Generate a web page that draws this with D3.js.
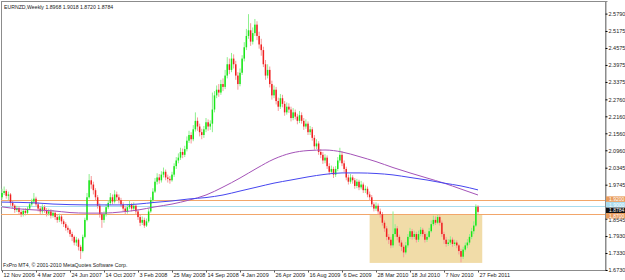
<!DOCTYPE html>
<html>
<head>
<meta charset="utf-8">
<script src="https://cdn.jsdelivr.net/npm/d3@7"></script>
<style>
  body { margin: 0; background: #fff; }
  text { font-family: "Liberation Sans", Arial, sans-serif; fill: #222; }
</style>
</head>
<body>
<div id="chart"></div>
<script>
// weekly closes, 12 Nov 2006 .. 27 Feb 2011 (one per bar)
const closes = [
  1.945,1.952,1.935,1.940,1.910,1.900,1.885,1.892,1.878,1.870,1.882,
  1.875,1.890,1.905,1.915,1.925,1.905,1.890,1.880,1.895,1.885,
  1.872,1.880,1.865,1.875,1.860,1.850,1.862,1.845,1.835,1.822,
  1.815,1.800,1.790,1.770,1.780,1.755,1.740,
  1.790,1.850,1.930,1.990,1.975,1.955,1.930,1.900,1.870,1.850,
  1.870,1.895,1.910,1.930,1.915,1.940,1.930,1.920,
  1.905,1.890,1.880,1.895,1.905,1.890,1.900,1.880,
  1.860,1.840,1.850,1.830,1.845,
  1.880,1.920,1.950,1.985,2.000,1.990,2.010,
  2.020,2.000,1.995,1.990,2.010,2.040,2.060,
  2.070,2.090,2.080,2.100,2.130,2.150,2.135,2.170,2.200,2.180,2.160,2.150,2.170,2.195,2.180,2.190,2.240,2.290,2.310,2.300,2.330,2.320,
  2.360,2.400,2.380,2.420,2.400,2.360,2.330,2.370,2.420,2.460,2.500,2.520,2.480,2.510,2.540,2.500,2.470,
  2.450,2.400,2.360,2.380,2.330,2.290,2.310,2.270,2.250,2.280,2.260,2.230,2.250,2.240,2.210,2.230,2.215,2.200,2.220,
  2.200,2.180,2.190,2.160,2.170,2.140,2.110,2.120,2.090,2.080,2.060,2.070,2.040,2.020,2.030,2.010,2.030,2.060,2.080,2.050,2.030,2.000,1.985,2.000,1.990,1.970,1.985,1.965,
  1.975,1.955,1.960,1.940,1.930,1.905,1.890,1.900,1.880,1.870,1.840,1.820,1.790,1.780,1.760,
  1.800,1.820,1.790,1.770,1.755,1.735,1.760,1.790,1.810,1.790,1.800,1.780,1.800,1.815,1.800,1.780,1.790,1.810,1.835,1.850,1.840,1.860,1.840,
  1.800,1.780,1.765,1.770,1.780,1.765,1.770,1.760,1.740,1.720,1.745,1.760,1.770,1.790,1.810,1.830,1.8968,1.8784
];
const highs = [
  1.960,1.968,1.958,1.950,1.945,1.918,1.905,1.900,1.898,1.885,1.890,
  1.892,1.898,1.912,1.925,1.945,1.932,1.912,1.898,1.905,1.902,
  1.892,1.890,1.888,1.885,1.880,1.868,1.872,1.868,1.852,1.842,
  1.830,1.820,1.808,1.795,1.790,1.785,1.762,
  1.798,1.858,1.945,2.012,2.005,1.985,1.962,1.938,1.908,1.878,
  1.880,1.905,1.920,1.945,1.940,1.955,1.950,1.940,
  1.928,1.912,1.898,1.905,1.918,1.910,1.912,1.905,
  1.888,1.868,1.862,1.858,1.855,
  1.890,1.930,1.962,1.998,2.015,2.012,2.022,
  2.035,2.028,2.010,2.005,2.020,2.050,2.072,
  2.085,2.105,2.102,2.112,2.145,2.165,2.160,2.185,2.230,2.212,2.190,2.172,2.182,2.210,2.205,2.202,2.300,2.305,2.325,2.330,2.345,2.350,
  2.380,2.425,2.420,2.440,2.435,2.412,2.372,2.385,2.432,2.478,2.525,2.577,2.545,2.530,2.560,2.552,2.515,
  2.490,2.462,2.415,2.400,2.392,2.342,2.325,2.320,2.282,2.295,2.292,2.270,2.265,2.262,2.250,2.245,2.240,2.225,2.235,
  2.230,2.210,2.205,2.198,2.182,2.178,2.150,2.135,2.128,2.100,2.090,2.082,2.078,2.050,2.042,2.038,2.040,2.072,2.105,2.092,2.060,2.038,2.010,2.012,2.008,1.998,1.995,1.992,
  1.988,1.982,1.972,1.968,1.950,1.938,1.912,1.912,1.908,1.890,1.878,1.848,1.828,1.800,1.790,
  1.880,1.835,1.828,1.798,1.778,1.762,1.772,1.800,1.822,1.818,1.812,1.808,1.812,1.825,1.822,1.808,1.802,1.822,1.848,1.865,1.862,1.868,1.866,
  1.848,1.808,1.790,1.782,1.792,1.788,1.780,1.778,1.765,1.748,1.755,1.770,1.782,1.800,1.822,1.845,1.905,1.9018
];
const lows = [
  1.922,1.938,1.925,1.920,1.900,1.890,1.875,1.878,1.868,1.860,1.862,
  1.866,1.870,1.885,1.898,1.908,1.898,1.880,1.870,1.872,1.875,
  1.862,1.865,1.855,1.858,1.850,1.840,1.842,1.835,1.825,1.812,
  1.805,1.790,1.775,1.760,1.758,1.742,1.712,
  1.735,1.785,1.845,1.925,1.960,1.940,1.920,1.890,1.858,1.822,
  1.840,1.862,1.888,1.902,1.905,1.908,1.918,1.908,
  1.895,1.880,1.868,1.872,1.888,1.880,1.882,1.870,
  1.850,1.828,1.832,1.822,1.825,
  1.840,1.875,1.912,1.945,1.975,1.978,1.982,
  2.000,1.990,1.982,1.978,1.985,2.002,2.030,
  2.050,2.062,2.068,2.072,2.092,2.122,2.120,2.128,2.162,2.165,2.145,2.135,2.140,2.160,2.165,2.168,2.160,2.230,2.280,2.285,2.292,2.305,
  2.312,2.350,2.365,2.372,2.385,2.345,2.310,2.322,2.362,2.410,2.450,2.490,2.465,2.470,2.500,2.485,2.455,
  2.430,2.390,2.345,2.350,2.318,2.275,2.280,2.258,2.235,2.242,2.248,2.218,2.222,2.228,2.198,2.202,2.205,2.188,2.192,
  2.190,2.168,2.172,2.150,2.150,2.130,2.098,2.100,2.080,2.068,2.048,2.050,2.030,2.010,2.012,1.998,2.002,2.022,2.052,2.040,2.018,1.990,1.975,1.978,1.978,1.960,1.962,1.955,
  1.958,1.945,1.945,1.930,1.918,1.895,1.880,1.882,1.870,1.858,1.830,1.808,1.778,1.765,1.750,
  1.752,1.790,1.778,1.758,1.740,1.718,1.728,1.752,1.782,1.780,1.782,1.770,1.772,1.792,1.790,1.770,1.772,1.785,1.805,1.828,1.832,1.835,1.830,
  1.790,1.765,1.755,1.758,1.762,1.755,1.758,1.750,1.728,1.700,1.712,1.738,1.750,1.762,1.782,1.800,1.825,1.8720
];
const firstOpen = 1.930;

// moving averages read every 8 bars
const maBars = [0,8,16,24,32,40,48,56,64,72,80,88,96,104,112,120,128,136,144,152,160,168,176,184,192,200,208,216,224];
const maSlow = [1.896,1.889,1.885,1.882,1.876,1.874,1.874,1.878,1.885,1.896,1.906,1.920,1.938,1.966,1.998,2.033,2.065,2.086,2.095,2.097,2.090,2.074,2.056,2.035,2.016,1.998,1.980,1.959,1.938];
const maFast = [1.913,1.912,1.910,1.906,1.904,1.903,1.903,1.903,1.906,1.912,1.917,1.924,1.929,1.938,1.952,1.966,1.980,1.991,2.002,2.011,2.016,2.016,2.014,2.009,2.000,1.991,1.980,1.970,1.956];

const yTicks = [2.5790,2.5175,2.4575,2.3975,2.3375,2.2760,2.2160,2.1560,2.0960,2.0345,1.9745,1.8545,1.7930,1.7330,1.6730];
const xTickBars = [0,16,32,48,64,80,96,112,128,144,160,176,192,208,224];
const xTickLabels = ["12 Nov 2006","4 Mar 2007","24 Jun 2007","14 Oct 2007","3 Feb 2008","25 May 2008","14 Sep 2008","4 Jan 2009","26 Apr 2009","16 Aug 2009","6 Dec 2009","28 Mar 2010","18 Jul 2010","7 Nov 2010","27 Feb 2011"];

const levelPrices = [1.9200, 1.9000, 1.8700];
const lastPrice = 1.8784;
const boxBars = [173, 226];
const boxPrices = [1.698, 1.870];
const title = "EURNZD,Weekly  1.8968 1.9018 1.8720 1.8784";
const credit = "FxPro MT4, © 2001-2010 MetaQuotes Software Corp.";

document.addEventListener('DOMContentLoaded', () => {
  const W = 625, H = 280;
  const plot = {left: 1, top: 1, right: 605, bottom: 270};

  const svg = d3.select("#chart").append("svg")
    .attr("width", W).attr("height", H);

  const x = d3.scaleLinear().domain([0, 224]).range([2, 478]);
  const y = d3.scaleLinear().domain([1.673, 2.6235]).range([270, 1]);

  const bars = closes.map((c, i) => ({
    i, c, h: highs[i], l: lows[i], o: i === 0 ? firstOpen : closes[i - 1]
  }));

  // plot frame
  svg.append("rect")
    .attr("x", plot.left + 0.5).attr("y", plot.top + 0.5)
    .attr("width", plot.right - plot.left).attr("height", plot.bottom - plot.top)
    .attr("fill", "#fff").attr("stroke", "#8c8c8c");

  const g = svg.append("g");

  // rectangle object
  g.append("rect")
    .attr("x", x(boxBars[0])).attr("y", y(boxPrices[1]))
    .attr("width", x(boxBars[1]) - x(boxBars[0]))
    .attr("height", y(boxPrices[0]) - y(boxPrices[1]))
    .attr("fill", "#f1dca8");

  // horizontal levels
  const levelColors = ["#f2a66a", "#a9dcef", "#f2a66a"];
  g.selectAll(".level").data(levelPrices).enter().append("line")
    .attr("x1", plot.left).attr("x2", plot.right)
    .attr("y1", d => Math.round(y(d)) + 0.5).attr("y2", d => Math.round(y(d)) + 0.5)
    .attr("stroke", (d, i) => levelColors[i]).attr("stroke-width", 1);

  // candles
  const up = "#19e619", dn = "#f02020";
  g.selectAll(".wick").data(bars).enter().append("line")
    .attr("x1", d => x(d.i)).attr("x2", d => x(d.i))
    .attr("y1", d => y(d.h)).attr("y2", d => y(d.l))
    .attr("stroke", d => d.c >= d.o ? "#8ef08e" : "#f59a9a")
    .attr("stroke-width", 1);
  g.selectAll(".body").data(bars).enter().append("rect")
    .attr("x", d => x(d.i) - 0.75).attr("width", 1.5)
    .attr("y", d => y(Math.max(d.o, d.c)))
    .attr("height", d => Math.max(1, Math.abs(y(d.o) - y(d.c))))
    .attr("fill", d => d.c >= d.o ? up : dn);

  // moving averages
  const line = d3.line().x(d => x(d[0])).y(d => y(d[1])).curve(d3.curveMonotoneX);
  g.append("path").datum(maBars.map((b, k) => [b, maSlow[k]]))
    .attr("d", line).attr("fill", "none").attr("stroke", "#a453b8").attr("stroke-width", 1);
  g.append("path").datum(maBars.map((b, k) => [b, maFast[k]]))
    .attr("d", line).attr("fill", "none").attr("stroke", "#4646f0").attr("stroke-width", 1);

  // right price axis
  const yAxis = svg.append("g")
    .attr("transform", `translate(${plot.right + 0.5},0)`)
    .call(d3.axisRight(y).tickValues(yTicks).tickSize(2).tickPadding(1).tickFormat(d3.format(".4f")));
  yAxis.select(".domain").attr("stroke", "#8c8c8c");
  yAxis.selectAll("text").style("font-size", "5.5px").attr("fill", "#333");
  // the 1.8545 label sits just under the price boxes
  yAxis.selectAll(".tick").filter(d => d === 1.8545).select("text").attr("dy", "0.55em");

  // price labels on axis, stacked where they would collide
  const labelData = [
    {p: levelPrices[0], bg: "#e89c5c", shift: -1},
    {p: levelPrices[1], bg: "#a9dcef", shift: -1},
    {p: lastPrice, bg: "#111", shift: -1.5},
    {p: levelPrices[2], bg: "#e89c5c", shift: 1.5}
  ];
  const lab = svg.append("g").selectAll("g").data(labelData).enter().append("g")
    .attr("transform", d => `translate(${plot.right + 1},${y(d.p) + d.shift})`);
  lab.append("rect").attr("x", 0).attr("y", -2.75).attr("width", 19).attr("height", 5.5)
    .attr("fill", d => d.bg);
  lab.append("text").attr("x", 3).attr("y", 1.8).style("font-size", "5px")
    .style("fill", "#fff")
    .text(d => d3.format(".4f")(d.p));

  // bottom time axis
  const xAxis = svg.append("g")
    .attr("transform", `translate(0,${plot.bottom + 0.5})`)
    .call(d3.axisBottom(x).tickValues(xTickBars).tickSize(2).tickPadding(1)
      .tickFormat((d, k) => xTickLabels[k]));
  xAxis.select(".domain").remove();
  xAxis.selectAll(".tick line").attr("stroke", "#555");
  xAxis.selectAll("text").style("font-size", "5.5px").attr("text-anchor", "start")
    .attr("dx", 1).attr("fill", "#333");

  // title and credit
  svg.append("text").attr("x", 4).attr("y", 9).style("font-size", "5.2px").text(title);
  svg.append("text").attr("x", 3).attr("y", 267).style("font-size", "5.2px").text(credit);
});
</script>
</body>
</html>
